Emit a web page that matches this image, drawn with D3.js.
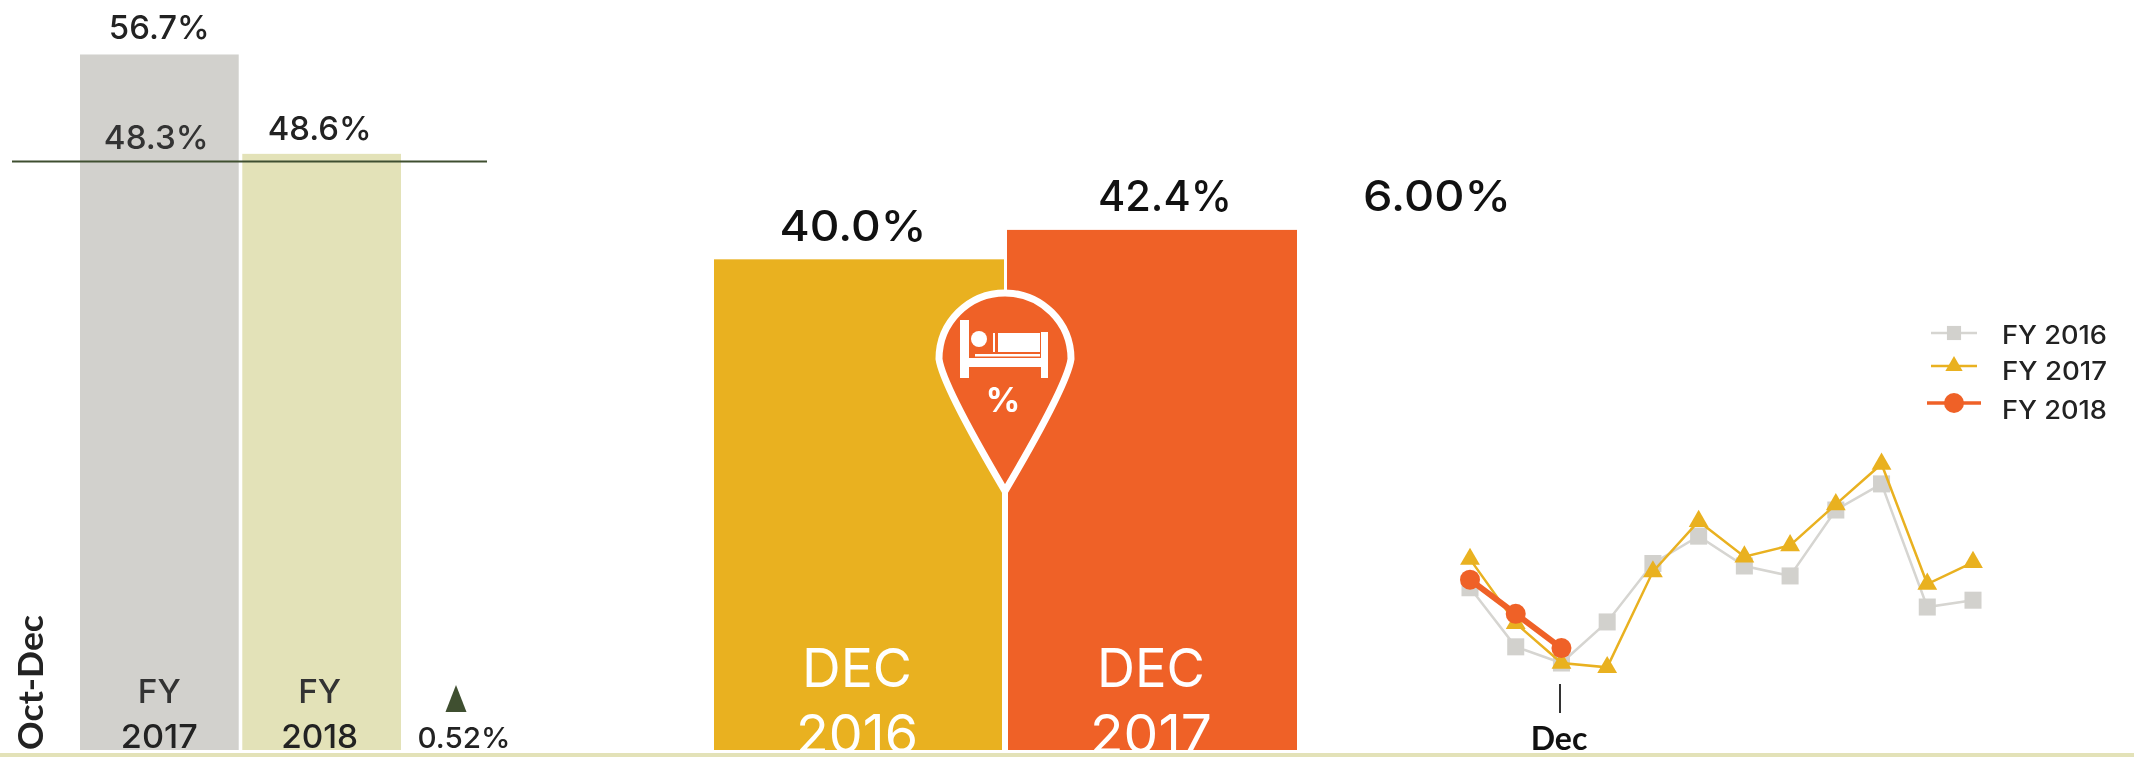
<!DOCTYPE html>
<html><head><meta charset="utf-8">
<script src="https://cdn.jsdelivr.net/npm/d3@7"></script>
<style>
html,body{margin:0;padding:0;background:#fff}
svg{display:block;filter:blur(0.7px)}
text{font-family:"Inter","Noto Sans",sans-serif;fill:#222;font-weight:500}
</style></head><body>
<svg id="c" width="2134" height="757"></svg>
<script>
const fyCats = ["FY 2017","FY 2018"];
const fyValues = [56.7,48.6];
const fyPrior = 48.3;
const fyChange = "0.52%";
const decCats = ["DEC 2016","DEC 2017"];
const decValues = [40.0,42.4];
const decChange = "6.00%";
const months = ["Oct","Nov","Dec","Jan","Feb","Mar","Apr","May","Jun","Jul","Aug","Sep"];
const fy2016 = [52.1,42.6,40.0,46.6,56.0,60.4,55.6,54.0,64.6,68.8,49.0,50.1];
const fy2017 = [56.7,46.4,40.0,39.3,54.7,62.8,57.1,58.9,65.5,72.0,52.7,56.2];
const fy2018 = [53.4,47.9,42.4];
const seriesNames = ["FY 2016","FY 2017","FY 2018"];

const COL = {gray:"#d2d1cd",khaki:"#e3e2b8",gold:"#e9b120",orange:"#ef6127",dark:"#3f4f30"};
const svg = d3.select("#c");

const yBar = d3.scaleLinear().domain([0,60]).range([750,14]);
const xFy = d3.scaleBand().domain(fyCats).range([80,401]).paddingInner(0.022);
const xDec = d3.scaleBand().domain(decCats).range([714,1297]).paddingInner(0.0103);

function label(x,y,t,size,opts={}){
  const n = svg.append("text").attr("x",x).attr("y",y).text(t)
    .attr("font-size",size).attr("text-anchor",opts.anchor||"middle");
  if(opts.fill) n.style("fill",opts.fill);
  if(opts.weight) n.style("font-weight",opts.weight);
  if(opts.len) n.attr("textLength",opts.len).attr("lengthAdjust","spacingAndGlyphs");
  if(opts.family) n.style("font-family",opts.family);
  return n;
}

// Left panel
svg.selectAll("rect.fy").data(fyCats).join("rect").attr("class","fy")
  .attr("x",d=>xFy(d)).attr("width",xFy.bandwidth())
  .attr("y",(d,i)=>yBar(fyValues[i])).attr("height",(d,i)=>yBar(0)-yBar(fyValues[i]))
  .attr("fill",(d,i)=>i?COL.khaki:COL.gray);
svg.append("line").attr("x1",12).attr("x2",487).attr("y1",yBar(fyPrior)+4).attr("y2",yBar(fyPrior)+4)
  .attr("stroke",COL.dark).attr("stroke-width",2);
label(xFy(fyCats[0])+xFy.bandwidth()/2,39,fyValues[0].toFixed(1)+"%",33,{len:101});
label(xFy(fyCats[0])+xFy.bandwidth()/2-3,149,fyPrior.toFixed(1)+"%",33,{len:105,fill:"#333"});
label(xFy(fyCats[1])+xFy.bandwidth()/2-2,140,fyValues[1].toFixed(1)+"%",33,{len:104});
fyCats.forEach((c,i)=>{
  const [a,b]=c.split(" "), cx=xFy(c)+xFy.bandwidth()/2-(i?2:0);
  label(cx,703,a,33,{len:43,fill:"#333"});
  label(cx,748,b,33,{len:77});
});
svg.append("text").attr("transform","translate(43,750) rotate(-90)").text("Oct-Dec")
  .attr("font-size",34).attr("textLength",135).attr("lengthAdjust","spacingAndGlyphs")
  .style("font-family","Lato").style("font-weight",700);
svg.append("path").attr("d",d3.symbol(d3.symbolTriangle,250)()).attr("transform","translate(456,703) scale(.875,1.3)").attr("fill",COL.dark);
label(464,748,fyChange,29,{len:93});

// Centre panel
svg.selectAll("rect.dec").data(decCats).join("rect").attr("class","dec")
  .attr("x",d=>xDec(d)).attr("width",xDec.bandwidth())
  .attr("y",(d,i)=>yBar(decValues[i])).attr("height",(d,i)=>yBar(0)-yBar(decValues[i]))
  .attr("fill",(d,i)=>i?COL.orange:COL.gold);
label(853,241,decValues[0].toFixed(1)+"%",43,{len:147,fill:"#111"});
label(1165,211,decValues[1].toFixed(1)+"%",43,{len:134,fill:"#111"});
label(1437,211,decChange,43,{len:148,fill:"#111"});
decCats.forEach((c,i)=>{
  const [a,b]=c.split(" "), cx=[857,1151][i];
  label(cx,687,a,54,{fill:"#fff",len:i?108:110,weight:400});
  label(cx,753,b,54,{fill:"#fff",len:122,weight:400});
});

// Pin marker
const pin = svg.append("g").attr("transform","translate(1005,355)");
pin.append("path").attr("d","M0,136 C-14,112 -62,32 -66,4 A66,66 0 1 1 66,4 C62,32 14,112 0,136 Z")
  .attr("fill",COL.orange).attr("stroke","#fff").attr("stroke-width",7).attr("stroke-linejoin","round");
const bed = pin.append("g").attr("fill","#fff");
[[-45,-35,9,58],[36,-23,7,46],[-45,3,88,9],[-7,-22,42,19],[-12,-22,2,19],[-30,-1,65,2.5]].forEach(r=>{
  bed.append("rect").attr("x",r[0]).attr("y",r[1]).attr("width",r[2]).attr("height",r[3]);
});
bed.append("circle").attr("cx",-26).attr("cy",-16).attr("r",8);
label(1003,412,"%",34,{fill:"#fff",weight:700});
// white hairline under the pin
svg.append("rect").attr("x",1002).attr("y",491).attr("width",6).attr("height",262).attr("fill","#fff");

// Right panel
const xM = d3.scalePoint().domain(months).range([1470,1973]);
const yM = d3.scaleLinear().domain([40,72]).range([663,464]);
const line = d3.line().x((d,i)=>xM(months[i])).y(d=>yM(d));
const square = d3.symbol(d3.symbolSquare,290)();
const tri = d3.symbol(d3.symbolTriangle,170)();
function series(vals,col,w,markFn){
  svg.append("path").attr("d",line(vals)).attr("fill","none").attr("stroke",col).attr("stroke-width",w);
  vals.forEach((v,i)=>markFn(svg.append("g").attr("transform",`translate(${xM(months[i])},${yM(v)})`)));
}
series(fy2016,"#d6d5d1",2.5,g=>g.append("path").attr("d",square).attr("fill",COL.gray));
series(fy2017,COL.gold,2.5,g=>g.append("path").attr("d",tri).attr("fill",COL.gold));
series(fy2018,COL.orange,6,g=>g.append("circle").attr("r",10).attr("fill",COL.orange));
svg.append("line").attr("x1",1560).attr("x2",1560).attr("y1",684).attr("y2",713).attr("stroke","#333").attr("stroke-width",2);
label(1559,750,"Dec",32,{family:"Lato",weight:700,fill:"#111"});

// Legend
const legY=[333,366,403], legTextY=[344,380,419], legCol=["#d6d5d1",COL.gold,COL.orange], legX1=[1931,1931,1927], legX2=[1977,1977,1981];
seriesNames.forEach((n,i)=>{
  svg.append("line").attr("x1",legX1[i]).attr("x2",legX2[i]).attr("y1",legY[i]).attr("y2",legY[i])
    .attr("stroke",legCol[i]).attr("stroke-width",i==2?3.5:2.5);
  const g=svg.append("g").attr("transform",`translate(1954,${legY[i]})`);
  if(i==0) g.append("path").attr("d",d3.symbol(d3.symbolSquare,200)()).attr("fill",COL.gray);
  if(i==1) g.append("path").attr("d",d3.symbol(d3.symbolTriangle,130)()).attr("fill",COL.gold);
  if(i==2) g.append("circle").attr("r",10).attr("fill",COL.orange);
  label(2002,legTextY[i],n,25,{anchor:"start",len:105,weight:500});
});

// bottom strip
svg.append("rect").attr("x",0).attr("y",753).attr("width",2134).attr("height",4).attr("fill",COL.khaki);
</script></body></html>
